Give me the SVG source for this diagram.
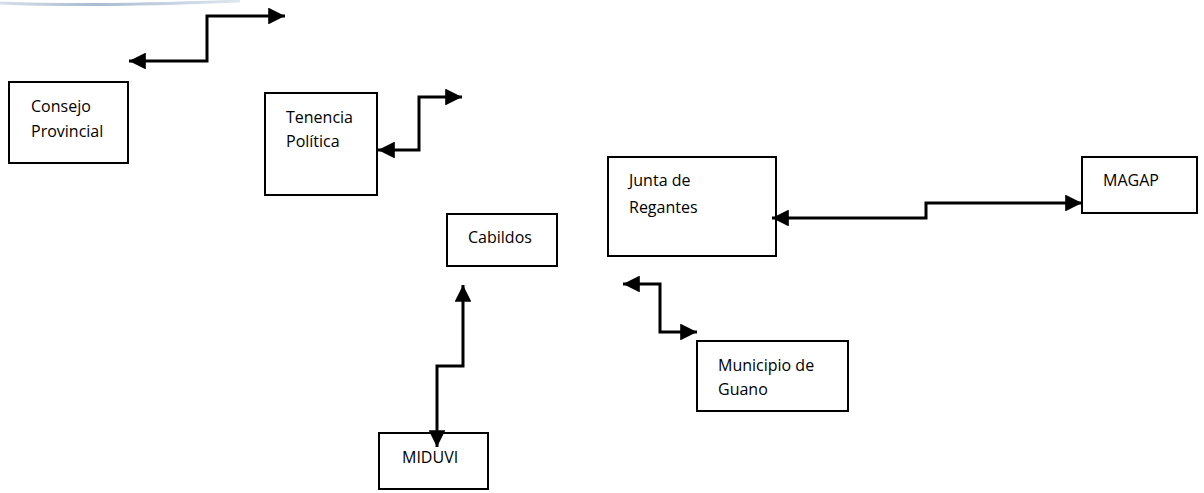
<svg xmlns="http://www.w3.org/2000/svg" width="1204" height="493" viewBox="0 0 1204 493">
<defs>
<linearGradient id="arcg" x1="0" y1="0" x2="1" y2="0">
<stop offset="0" stop-color="#d5dee9"/>
<stop offset="0.4" stop-color="#a9bcd3"/>
<stop offset="1" stop-color="#dfe7f0"/>
</linearGradient>
<marker id="ah" viewBox="0 0 10 10" refX="10" refY="5" markerWidth="6" markerHeight="5.6" markerUnits="strokeWidth" orient="auto-start-reverse">
<path d="M0,0 L10,5 L0,10 z" fill="#000"/>
</marker>
<style>
.box{fill:#fff;stroke:#000;stroke-width:2}
.lbl{font-family:"Open Sans","Liberation Sans",sans-serif;font-size:16px;fill:#000}
.con{fill:none;stroke:#000;stroke-width:3;marker-start:url(#ah);marker-end:url(#ah)}
</style>
</defs>
<rect width="1204" height="493" fill="#fff"/>
<path d="M0,3 Q90,7 240,1" fill="none" stroke="url(#arcg)" stroke-width="3"/>
<g id="consejo"><rect class="box" x="9" y="82" width="119" height="81"/><text class="lbl" x="31" y="112">Consejo</text><text class="lbl" x="31" y="137">Provincial</text></g>
<g id="tenencia"><rect class="box" x="265" y="93" width="112" height="102"/><text class="lbl" x="286" y="123">Tenencia</text><text class="lbl" x="286" y="147">Política</text></g>
<g id="cabildos"><rect class="box" x="447" y="214" width="110" height="52"/><text class="lbl" x="468" y="243">Cabildos</text></g>
<g id="junta"><rect class="box" x="608" y="157" width="168" height="99"/><text class="lbl" x="629" y="186">Junta de</text><text class="lbl" x="629" y="213">Regantes</text></g>
<g id="magap"><rect class="box" x="1082" y="157" width="115" height="56"/><text class="lbl" x="1103" y="186">MAGAP</text></g>
<g id="municipio"><rect class="box" x="697" y="341" width="151" height="70"/><text class="lbl" x="718" y="371">Municipio de</text><text class="lbl" x="718" y="395">Guano</text></g>
<g id="miduvi"><rect class="box" x="379" y="433" width="109" height="56"/><text class="lbl" x="402" y="463">MIDUVI</text></g>
<g id="connectors">
<path class="con" d="M129,61 H207 V16 H285"/>
<path class="con" d="M378,150 H419 V97 H462"/>
<path class="con" d="M772,218 H926 V203 H1082"/>
<path class="con" d="M463,285 V366 H437 V447"/>
<path class="con" d="M623,284 H660 V332 H697"/>
</g>
</svg>
